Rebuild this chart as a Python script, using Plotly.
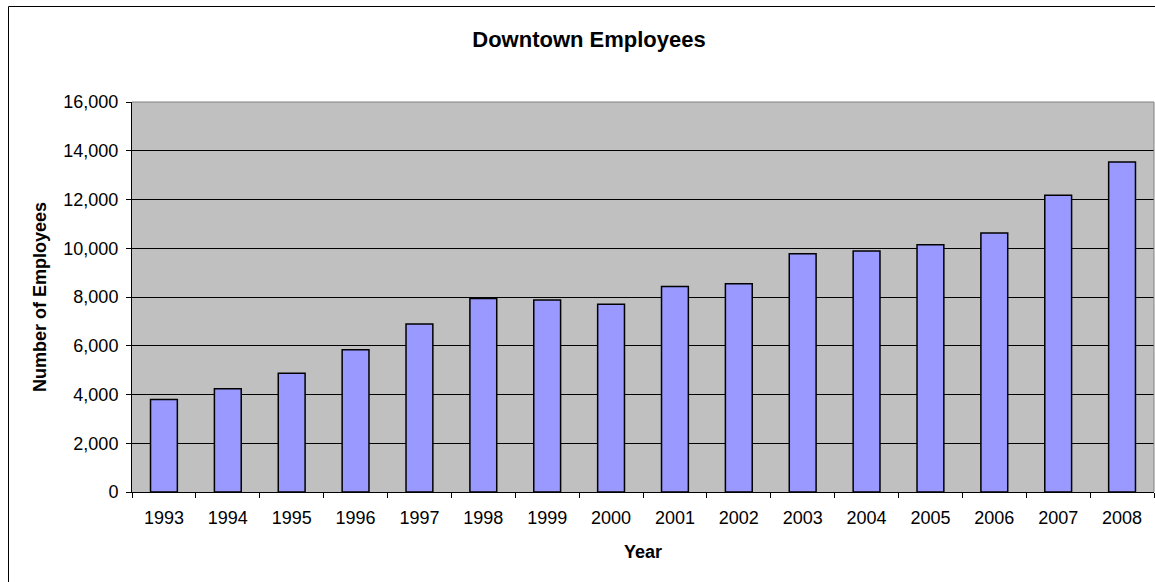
import plotly.graph_objects as go

years = ["1993", "1994", "1995", "1996", "1997", "1998", "1999", "2000",
         "2001", "2002", "2003", "2004", "2005", "2006", "2007", "2008"]
employees = [3800, 4240, 4870, 5840, 6890, 7940, 7880, 7700,
             8430, 8540, 9770, 9890, 10140, 10630, 12170, 13540]

FONT = "Arial, Liberation Sans, sans-serif"

W, H = 1155, 582
L, R, T, B = 132, 1, 102, 90
pw, ph = W - L - R, H - T - B


def px_x(x):
    return (x - L) / pw


def px_y(y):
    return (H - B - y) / ph


fig = go.Figure()
fig.add_trace(go.Bar(x=years, y=employees,
                     marker=dict(color="#9999FF", line=dict(color="black", width=1.5)),
                     showlegend=False))

fig.update_layout(
    width=W, height=H,
    margin=dict(l=L, r=R, t=T, b=B),
    paper_bgcolor="white",
    plot_bgcolor="#C0C0C0",
    bargap=0.58,
    font=dict(family=FONT, size=18, color="black"),
    title=dict(text="<b>Downtown Employees</b>", x=589 / W, xanchor="center",
               y=1 - 39 / H, yanchor="middle", font=dict(size=22)),
)

fig.update_xaxes(
    type="category",
    title=dict(text="<b>Year</b>", font=dict(size=18), standoff=18),
    showline=True, linecolor="black", linewidth=1,
    ticks="outside", tickson="boundaries", ticklen=5, tickcolor="black",
    ticklabelstandoff=9,
    showgrid=False,
    tickfont=dict(size=18),
)
fig.update_yaxes(
    range=[0, 16000], dtick=2000, tickformat=",",
    title=dict(text="<b>Number of Employees</b>", font=dict(size=18), standoff=12),
    showline=True, linecolor="black", linewidth=1,
    ticks="outside", ticklen=5, tickcolor="black",
    ticklabelstandoff=4,
    showgrid=True, gridcolor="black", gridwidth=1,
    zeroline=False,
    tickfont=dict(size=18),
)

# gray top and right edges of the plot area
fig.add_shape(type="line", xref="paper", yref="paper", x0=0, x1=1, y0=1, y1=1,
              line=dict(color="#808080", width=1))
fig.add_shape(type="line", xref="paper", yref="paper", x0=1, x1=1, y0=0, y1=1,
              line=dict(color="#808080", width=1))

# outer chart border (left and top; right/bottom are cropped)
fig.add_shape(type="line", xref="paper", yref="paper",
              x0=px_x(8.5), x1=px_x(8.5), y0=px_y(6.5), y1=px_y(600),
              line=dict(color="black", width=1))
fig.add_shape(type="line", xref="paper", yref="paper",
              x0=px_x(8.5), x1=px_x(1170), y0=px_y(6.5), y1=px_y(6.5),
              line=dict(color="black", width=1))

fig.write_html("out.html", config={"displayModeBar": False},
               post_script="document.body.style.margin='0';")
